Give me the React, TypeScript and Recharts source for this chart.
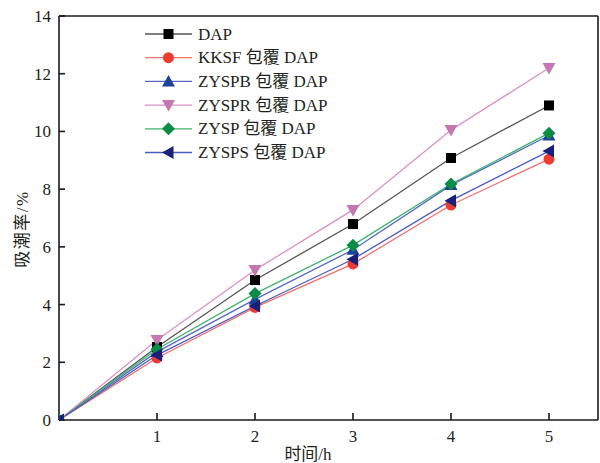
import React from 'react';
import { LineChart, Line, XAxis, YAxis, Legend, ReferenceLine } from 'recharts';

const hours = [0, 1, 2, 3, 4, 5];
const dap = [0, 2.53, 4.85, 6.79, 9.08, 10.9];
const kksf = [0, 2.15, 3.9, 5.41, 7.45, 9.04];
const zyspb = [0, 2.36, 4.18, 5.9, 8.14, 9.86];
const zyspr = [0, 2.77, 5.2, 7.28, 10.05, 12.2];
const zysp = [0, 2.45, 4.38, 6.06, 8.18, 9.94];
const zysps = [0, 2.25, 3.95, 5.57, 7.6, 9.32];
const xTicks = [1, 2, 3, 4, 5];
const yTicks = [0, 2, 4, 6, 8, 10, 12, 14];
const xMax = 5.5;
const yMax = 14;

const FONT = "'Liberation Serif', 'Noto Sans CJK SC', serif";
const AXIS = '#1a1a1a';

type Shape = 'square' | 'circle' | 'up' | 'down' | 'diamond' | 'left';

const series: { key: string; name: string; values: number[]; line: string; fill: string; shape: Shape }[] = [
  { key: 'dap', name: 'DAP', values: dap, line: '#555555', fill: '#000000', shape: 'square' },
  { key: 'kksf', name: 'KKSF 包覆 DAP', values: kksf, line: '#f07070', fill: '#ee3b30', shape: 'circle' },
  { key: 'zyspb', name: 'ZYSPB 包覆 DAP', values: zyspb, line: '#5868c8', fill: '#1d4396', shape: 'up' },
  { key: 'zyspr', name: 'ZYSPR 包覆 DAP', values: zyspr, line: '#dc8ec8', fill: '#c477b1', shape: 'down' },
  { key: 'zysp', name: 'ZYSP 包覆 DAP', values: zysp, line: '#3cb46a', fill: '#0b8c45', shape: 'diamond' },
  { key: 'zysps', name: 'ZYSPS 包覆 DAP', values: zysps, line: '#4c5cc0', fill: '#1a1f78', shape: 'left' },
];

const data = hours.map((h, i) => {
  const row: Record<string, number> = { h };
  series.forEach((s) => (row[s.key] = s.values[i]));
  return row;
});

function marker(shape: Shape, cx: number, cy: number, fill: string, key?: any) {
  switch (shape) {
    case 'square':
      return <rect key={key} x={cx - 5} y={cy - 5} width={10} height={10} fill={fill} />;
    case 'circle':
      return <circle key={key} cx={cx} cy={cy} r={5.5} fill={fill} />;
    case 'up':
      return <polygon key={key} points={`${cx},${cy - 6.5} ${cx + 6.5},${cy + 5} ${cx - 6.5},${cy + 5}`} fill={fill} />;
    case 'down':
      return <polygon key={key} points={`${cx},${cy + 6.5} ${cx + 6.5},${cy - 5} ${cx - 6.5},${cy - 5}`} fill={fill} />;
    case 'diamond':
      return <polygon key={key} points={`${cx},${cy - 6.5} ${cx + 6.5},${cy} ${cx},${cy + 6.5} ${cx - 6.5},${cy}`} fill={fill} />;
    case 'left':
      return <polygon key={key} points={`${cx - 6.5},${cy} ${cx + 5},${cy - 6.5} ${cx + 5},${cy + 6.5}`} fill={fill} />;
  }
  return null;
}

const dotFor = (shape: Shape, fill: string) => (props: any) => {
  const { cx, cy, index } = props;
  if (cx == null || cy == null) return <g key={index} />;
  return marker(shape, cx, cy, fill, index);
};

const renderLegend = () => (
  <svg width={240} height={150} style={{ display: 'block' }}>
    {series.map((s, i) => {
      const y = 12 + i * 23.7;
      return (
        <g key={s.key}>
          <line x1={5} x2={52} y1={y} y2={y} stroke={s.line} strokeWidth={1.3} />
          {marker(s.shape, 28.5, y, s.fill)}
          <text x={58} y={y} dominantBaseline="central" fontFamily={FONT} fontSize={17} fill="#231f20" style={{ whiteSpace: 'pre' }}>
            {s.name}
          </text>
        </g>
      );
    })}
  </svg>
);

export default function App() {
  return (
    <div style={{ width: 600, height: 463, background: '#fff', position: 'relative' }}>
      <style>{'body{margin:0}'}</style>
      <LineChart width={600} height={463} data={data} margin={{ top: 16, right: 2, bottom: 0, left: 8 }}>
        <XAxis
          dataKey="h"
          type="number"
          domain={[0, xMax]}
          ticks={xTicks}
          allowDataOverflow
          height={43}
          tickSize={-7}
          tickMargin={17}
          axisLine={{ stroke: AXIS, strokeWidth: 1.6 }}
          tickLine={{ stroke: AXIS, strokeWidth: 1.6 }}
          tick={{ fontFamily: FONT, fontSize: 17, fill: '#231f20' }}
          label={{
            content: () => (
              <text x={308} y={460} textAnchor="middle" fontFamily={FONT} fontSize={17} fill="#231f20">
                时间/h
              </text>
            ),
          }}
        />
        <YAxis
          type="number"
          domain={[0, yMax]}
          ticks={yTicks}
          allowDataOverflow
          width={51}
          tickSize={-6}
          tickMargin={14}
          axisLine={{ stroke: AXIS, strokeWidth: 1.6 }}
          tickLine={{ stroke: AXIS, strokeWidth: 1.6 }}
          tick={{ fontFamily: FONT, fontSize: 17, fill: '#231f20' }}
          label={{
            content: () => (
              <text
                x={0}
                y={0}
                transform="translate(22, 229) rotate(-90)"
                textAnchor="middle"
                dominantBaseline="central"
                fontFamily={FONT}
                fontSize={17}
                letterSpacing={1.5}
                fill="#231f20"
              >
                吸潮率/%
              </text>
            ),
          }}
        />
        <ReferenceLine y={yMax} stroke={AXIS} strokeWidth={1.6} />
        <ReferenceLine x={xMax} stroke={AXIS} strokeWidth={1.6} />
        <Legend
          layout="vertical"
          align="center"
          verticalAlign="middle"
          content={renderLegend}
          wrapperStyle={{ left: 140, top: 22, width: 240, height: 150 }}
        />
        {series.map((s) => (
          <Line
            key={s.key}
            dataKey={s.key}
            name={s.name}
            stroke={s.line}
            strokeWidth={1.3}
            dot={dotFor(s.shape, s.fill)}
            activeDot={false}
            isAnimationActive={false}
          />
        ))}
      </LineChart>
    </div>
  );
}
